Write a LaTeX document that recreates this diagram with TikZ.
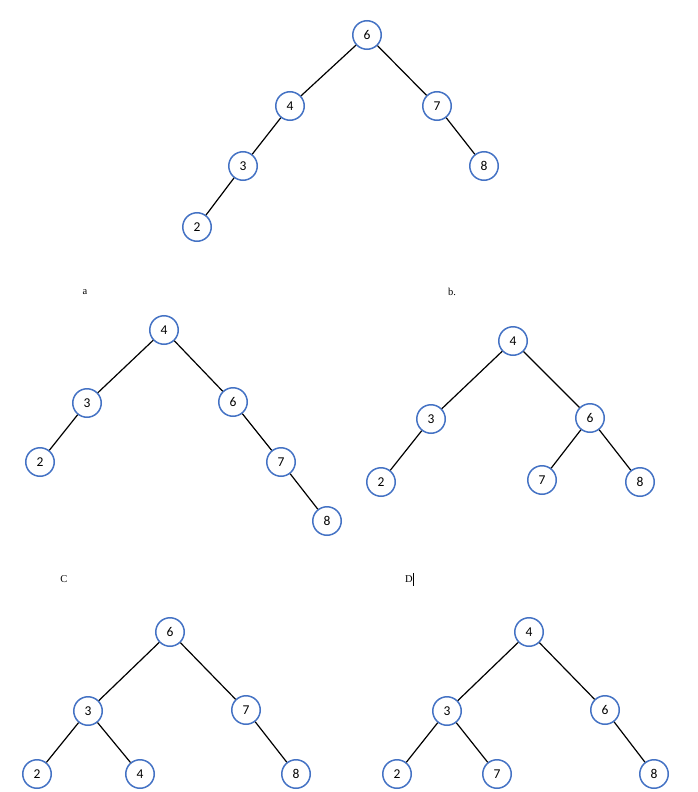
\documentclass[tikz,border=0pt]{standalone}
\usepackage{fontspec}
\setmainfont{Carlito}
\newfontfamily\labfont{Liberation Serif}
\definecolor{nodeblue}{RGB}{68,114,196}
\begin{document}
\begin{tikzpicture}[x=1pt,y=-1pt,
  tn/.style={circle,draw=nodeblue,fill=white,line width=1.5pt,minimum size=28.5pt,inner sep=0pt,font=\fontsize{13.5}{15}\selectfont},
  ed/.style={line width=1.2pt,black},
  lab/.style={font=\labfont\fontsize{10.5}{12}\selectfont,inner sep=0pt}]
\useasboundingbox (0,0) rectangle (698,792);
% top tree
\node[tn] (t6) at (367,35) {6};
\node[tn] (t4) at (290,106) {4};
\node[tn] (t7) at (437,106) {7};
\node[tn] (t3) at (243,166) {3};
\node[tn] (t8) at (484,166) {8};
\node[tn] (t2) at (197,227) {2};
\draw[ed] (t6)--(t4) (t6)--(t7) (t4)--(t3) (t7)--(t8) (t3)--(t2);
% labels
\node[lab] (la) at (85,292) {a};
\node[lab] (lb) at (452,292) {b.};
\node[lab] (lc) at (64,579) {C};
\node[lab] (ld) at (409,579) {D};
\draw[line width=0.7pt] ([xshift=0.6pt,yshift=2.5pt]ld.north east) -- ([xshift=0.6pt,yshift=-3pt]ld.south east);
% tree a
\node[tn] (a4) at (164,330) {4};
\node[tn] (a3) at (87,403) {3};
\node[tn] (a6) at (233,402) {6};
\node[tn] (a2) at (40,462) {2};
\node[tn] (a7) at (281,462) {7};
\node[tn] (a8) at (327,521) {8};
\draw[ed] (a4)--(a3) (a4)--(a6) (a3)--(a2) (a6)--(a7) (a7)--(a8);
% tree b
\node[tn] (b4) at (513,341) {4};
\node[tn] (b3) at (431,419) {3};
\node[tn] (b6) at (590,418) {6};
\node[tn] (b2) at (381,482) {2};
\node[tn] (b7) at (542,480) {7};
\node[tn] (b8) at (640,482) {8};
\draw[ed] (b4)--(b3) (b4)--(b6) (b3)--(b2) (b6)--(b7) (b6)--(b8);
% tree C
\node[tn] (c6) at (170,632) {6};
\node[tn] (c3) at (88,711) {3};
\node[tn] (c7) at (246,710) {7};
\node[tn] (c2) at (37,774) {2};
\node[tn] (c4) at (140,774) {4};
\node[tn] (c8) at (296,774) {8};
\draw[ed] (c6)--(c3) (c6)--(c7) (c3)--(c2) (c3)--(c4) (c7)--(c8);
% tree D
\node[tn] (d4) at (529,632) {4};
\node[tn] (d3) at (447,711) {3};
\node[tn] (d6) at (605,710) {6};
\node[tn] (d2) at (397,774) {2};
\node[tn] (d7) at (497,774) {7};
\node[tn] (d8) at (654,774) {8};
\draw[ed] (d4)--(d3) (d4)--(d6) (d3)--(d2) (d3)--(d7) (d6)--(d8);
\end{tikzpicture}
\end{document}
